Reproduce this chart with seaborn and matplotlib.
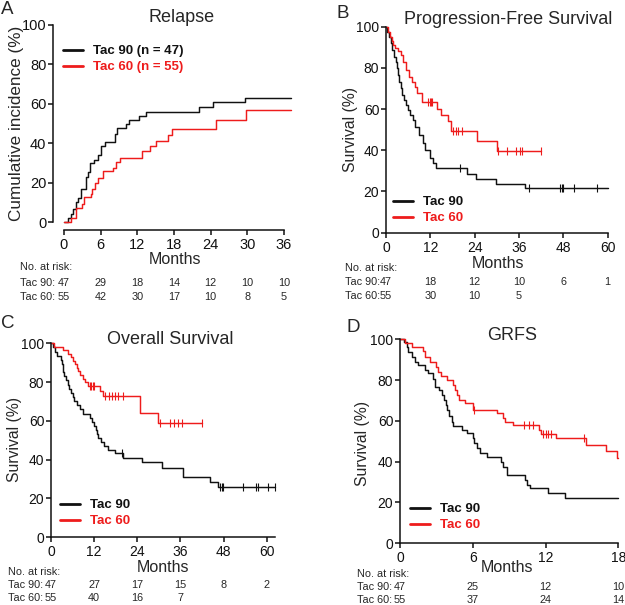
import numpy as np
import matplotlib
matplotlib.use("Agg")
import matplotlib.pyplot as plt
import matplotlib.transforms as mtrans
import seaborn as sns

sns.set_theme(style="ticks")
plt.rcParams['font.family'] = ['Liberation Sans', 'DejaVu Sans']

BLACK = "#111111"
RED = "#EE1C1C"

# ---------------- Panel A: Relapse (cumulative incidence) ----------------
a_t90 = [0, 0.7, 1.1, 1.5, 1.9, 2.3, 2.8, 3.6, 3.9, 4.2, 4.95, 5.5, 6.0, 6.7, 8.3, 8.6,
         10.2, 10.6, 12.2, 13.5, 22.1, 24.4, 29.7, 37.2]
a_v90 = [0, 2.2, 4.3, 6.8, 10.2, 12.4, 17.0, 22.9, 25.4, 29.7, 31.7, 33.9, 38.5, 40.7, 44.9, 47.5,
         49.5, 51.7, 53.9, 55.9, 58.5, 60.7, 63.0, 63.0]
a_t60 = [0, 1.1, 1.9, 2.9, 3.3, 4.4, 4.6, 5.0, 5.5, 6.4, 8.1, 8.5, 9.1, 12.8, 14.0, 15.1,
         17.0, 17.7, 24.9, 29.8, 37.2]
a_v60 = [0, 2.0, 7.1, 9.3, 12.7, 14.4, 17.0, 20.0, 22.4, 25.8, 27.6, 30.5, 32.7, 35.9, 38.5, 41.2,
         44.1, 47.0, 51.7, 56.8, 56.8]
a_risk_t = [0, 6, 12, 18, 24, 30, 36]
a_risk90 = [47, 29, 18, 14, 12, 10, 10]
a_risk60 = [55, 42, 30, 17, 10, 8, 5]

# ---------------- Panel B: Progression-Free Survival ----------------
b_t90 = [0, 0.36, 0.81, 1.26, 1.71, 2.17, 2.62, 2.89, 3.34, 3.61, 3.97, 4.42, 4.87, 5.41, 6.05,
         6.5, 7.22, 7.85, 9.02, 9.92, 10.55, 11.9, 12.8, 13.5, 22.0, 24.4, 29.8, 37.6, 60.2]
b_v90 = [100, 97.6, 95.1, 91.9, 88.7, 85.4, 83.0, 79.8, 76.5, 73.3, 70.1, 66.8, 64.4, 62.0, 59.6,
         57.1, 54.7, 51.5, 47.4, 43.4, 40.1, 36.1, 33.7, 31.2, 28.3, 26.1, 23.6, 21.5, 21.5]
b_c90 = [20.0, 38.7, 47.1, 47.5, 48.0, 50.9, 57.0]
b_t60 = [0, 0.54, 1.08, 1.6, 1.9, 2.4, 3.3, 3.97, 4.7, 5.4, 6.3, 6.95, 7.85, 8.5, 9.65, 13.7,
         14.8, 16.9, 17.6, 24.7, 29.95, 42.0]
b_v60 = [100, 97.6, 95.1, 93.2, 91.1, 89.8, 88.2, 86.3, 83.0, 79.0, 75.8, 73.3, 70.9, 67.6, 63.6, 59.9,
         57.1, 54.2, 49.4, 44.7, 39.7, 39.7]
b_c60 = [11.5, 11.8, 12.1, 12.4, 18.2, 18.9, 19.6, 20.5, 30.4, 32.7, 35.2, 36.3, 36.7, 42.0]
b_risk_t = [0, 12, 24, 36, 48, 60]
b_risk90 = [47, 18, 12, 10, 6, 1]
b_risk60 = [55, 30, 10, 5]

# ---------------- Panel C: Overall Survival ----------------
c_t90 = [0, 0.5, 1.1, 1.8, 2.8, 3.0, 3.2, 3.4, 3.6, 4.1, 4.6, 5.1, 5.6, 6.0, 6.4, 7.3, 8.1, 9.0,
         10.9, 11.5, 12.0, 12.4, 12.8, 13.2, 13.8, 14.8, 15.9, 17.8, 20.1, 25.2, 30.8, 36.8,
         44.2, 46.6, 62.3]
c_v90 = [100, 97.9, 95.7, 93.6, 91.5, 89.4, 87.2, 85.1, 83.0, 80.9, 78.7, 76.6, 74.5, 72.3, 70.2,
         68.1, 66.0, 63.8, 61.7, 59.6, 57.4, 55.3, 53.2, 51.1, 48.9, 47.0, 45.0, 43.3, 41.1, 38.6,
         35.9, 31.3, 28.7, 26.1, 26.1]
c_c90 = [19.8, 47.0, 47.5, 47.9, 53.5, 57.0, 57.7, 60.3, 62.2]
c_t60 = [0, 0.7, 3.4, 4.6, 5.5, 6.1, 6.6, 7.1, 7.6, 8.2, 8.8, 9.5, 10.4, 13.6, 14.4, 24.8, 29.8, 41.9]
c_v60 = [100, 98.2, 96.4, 94.5, 92.7, 90.9, 89.1, 87.3, 85.5, 83.6, 81.8, 80.0, 78.2, 75.6, 73.0,
         63.9, 59.1, 59.1]
c_c60 = [10.8, 11.2, 11.6, 12.0, 15.0, 16.0, 16.9, 17.8, 18.7, 20.1, 30.3, 33.1, 34.2, 35.2,
         36.4, 41.9]
c_risk_t = [0, 12, 24, 36, 48, 60]
c_risk90 = [47, 27, 17, 15, 8, 2]
c_risk60 = [55, 40, 16, 7]

# ---------------- Panel D: GRFS ----------------
d_t90 = [0, 0.36, 0.55, 0.69, 0.96, 1.24, 1.51, 2.06, 2.34, 2.69, 2.88, 3.24, 3.43, 3.63, 3.79,
         3.9, 4.07, 4.26, 4.4, 5.08, 5.55, 5.99, 6.1, 6.32, 6.59, 7.14, 8.3, 8.46, 8.79, 10.3,
         10.5, 10.7, 12.2, 13.6, 18.0]
d_v90 = [100, 98.9, 96.4, 94.0, 91.5, 89.0, 87.4, 85.0, 83.3, 80.4, 76.8, 75.2, 72.7, 70.3, 67.8,
         65.4, 62.4, 59.6, 57.5, 55.6, 53.9, 51.5, 49.0, 46.6, 44.4, 42.5, 40.0, 37.3, 33.5, 31.0,
         28.6, 27.0, 24.5, 22.0, 22.0]
d_c90 = []
d_t60 = [0, 0.4, 0.96, 1.87, 2.06, 2.47, 2.97, 3.16, 3.4, 3.9, 4.4, 4.55, 4.7, 4.89, 5.36, 6.04,
         7.97, 8.5, 8.66, 9.35, 11.5, 11.6, 12.9, 15.3, 16.96, 17.9, 18.0]
d_v60 = [100, 98.2, 96.4, 94.5, 91.5, 89.0, 86.6, 84.2, 82.0, 80.0, 77.6, 75.2, 72.7, 70.3, 68.6,
         65.4, 63.7, 61.3, 59.7, 58.0, 55.6, 53.6, 51.5, 48.2, 45.4, 42.0, 42.0]
d_c60 = [6.1, 10.2, 10.6, 11.0, 11.75, 12.0, 12.2, 12.45, 15.2]
d_risk_t = [0, 6, 12, 18]
d_risk90 = [47, 25, 12, 10]
d_risk60 = [55, 37, 24, 14]

W, H = 625, 605
fig = plt.figure(figsize=(W / 100, H / 100), dpi=100)


def px_axes(x0, y0, x1, y1):
    return fig.add_axes([x0 / W, 1 - y1 / H, (x1 - x0) / W, (y1 - y0) / H])


def step_at(t, v, tc):
    t = np.asarray(t)
    v = np.asarray(v)
    idx = np.searchsorted(t, tc, side="right") - 1
    return v[np.clip(idx, 0, len(v) - 1)]


def panel(box, xlim, xticks, curves, letter, letter_xy, title, title_xy, ylabel, ylab_xy,
          months_xy, leg_xy, labels, risk, risk_rows, risk_x, offsets=(0, 0), tick_fs=10,
          ylab_fs=11.5, leg_fs=9.5, xbound=None):
    ax = px_axes(*box)
    for (t, v, cens, col), lab in zip(curves, labels):
        sns.lineplot(x=t, y=v, ax=ax, color=col, linewidth=1.05, drawstyle="steps-post",
                     estimator=None, sort=False, label=lab, clip_on=False)
        if cens:
            cy = step_at(t, v, cens)
            sns.scatterplot(x=cens, y=cy, ax=ax, color=col, marker="|", s=26,
                            linewidth=0.8, clip_on=False, legend=False)
    ax.set_xlim(*xlim)
    ax.set_ylim(0, 100)
    ax.set_xticks(xticks)
    ax.set_yticks([0, 20, 40, 60, 80, 100])
    ax.set_xlabel("")
    ax.set_ylabel("")
    for s in ["top", "right"]:
        ax.spines[s].set_visible(False)
    for s in ["left", "bottom"]:
        ax.spines[s].set_linewidth(1.1)
        ax.spines[s].set_color("#111111")
    ax.spines["left"].set_position(("outward", offsets[0] * 0.72))
    ax.spines["bottom"].set_position(("outward", offsets[1] * 0.72))
    ax.spines["bottom"].set_bounds(*(xbound if xbound else xlim))
    ax.spines["left"].set_bounds(0, 100)
    ax.tick_params(axis="both", direction="out", length=3.3, width=1.1, color="#111111",
                   labelsize=tick_fs, labelcolor="#111111")
    ax.tick_params(axis="x", pad=2.5)
    ax.tick_params(axis="y", pad=1.5)
    ax.grid(False)
    ax.patch.set_alpha(0)

    fig.text(letter_xy[0] / W, 1 - letter_xy[1] / H, letter, fontsize=13.5, ha="left", va="center")
    fig.text(title_xy[0] / W, 1 - title_xy[1] / H, title, fontsize=13, ha="center", va="center")
    fig.text(ylab_xy[0] / W, 1 - ylab_xy[1] / H, ylabel, fontsize=ylab_fs, ha="center",
             va="center", rotation=90)
    fig.text(months_xy[0] / W, 1 - months_xy[1] / H, "Months", fontsize=11.5, ha="center",
             va="center")

    leg = ax.legend(loc="upper left", bbox_to_anchor=(leg_xy[0] / W, 1 - leg_xy[1] / H),
                    bbox_transform=fig.transFigure, frameon=False,
                    prop={"weight": "bold", "size": leg_fs}, labelcolor="linecolor",
                    handlelength=1.55, handletextpad=0.75, borderpad=0, borderaxespad=0,
                    labelspacing=0.3)
    for h in leg.get_lines():
        h.set_linewidth(2.0)

    tr = mtrans.blended_transform_factory(ax.transData, fig.transFigure)
    ys = risk_rows
    fig.text(risk_x / W, 1 - ys[0] / H, "No. at risk:", fontsize=7.8, ha="left", va="center")
    for (name, counts), yy in zip(risk[1], ys[1:]):
        fig.text(risk_x / W, 1 - yy / H, name, fontsize=7.8, ha="left", va="center")
        for tt, cc in zip(risk[0], counts):
            ax.text(tt, 1 - yy / H, str(cc), transform=tr, fontsize=7.8, ha="center",
                    va="center", clip_on=False)
    return ax


# Panel A
panel(box=(64, 25, 64 + 37.5 * 6.11, 222), xlim=(0, 37.5), xticks=a_risk_t,
      curves=[(a_t90, a_v90, [], BLACK), (a_t60, a_v60, [], RED)],
      letter="A", letter_xy=(1, 10), title="Relapse", title_xy=(182, 18),
      ylabel="Cumulative incidence (%)", ylab_xy=(17, 123), months_xy=(175, 260),
      leg_xy=(63, 45), labels=["Tac 90 (n = 47)", "Tac 60 (n = 55)"],
      risk=(a_risk_t, [("Tac 90:", a_risk90), ("Tac 60:", a_risk60)]),
      risk_rows=(267, 283, 297), risk_x=20, offsets=(11, 8), tick_fs=10.5, ylab_fs=12.3,
      xbound=(0, 36))

# Panel B
panel(box=(386, 26.7, 607.7, 232.7), xlim=(0, 60), xticks=b_risk_t,
      curves=[(b_t90, b_v90, b_c90, BLACK), (b_t60, b_v60, b_c60, RED)],
      letter="B", letter_xy=(336, 13), title="Progression-Free Survival", title_xy=(508, 19),
      ylabel="Survival (%)", ylab_xy=(351, 130), months_xy=(498, 263),
      leg_xy=(393, 196), labels=["Tac 90", "Tac 60"],
      risk=(b_risk_t, [("Tac 90:", b_risk90), ("Tac 60:", b_risk60)]),
      risk_rows=(268, 282, 296), risk_x=345, tick_fs=10, ylab_fs=11.3)

# Panel C
panel(box=(51, 343.3, 51 + 62.3 * 3.594, 537.3), xlim=(0, 62.3), xticks=c_risk_t,
      curves=[(c_t90, c_v90, c_c90, BLACK), (c_t60, c_v60, c_c60, RED)],
      letter="C", letter_xy=(1, 323), title="Overall Survival", title_xy=(170, 339),
      ylabel="Survival (%)", ylab_xy=(15, 440), months_xy=(163, 567),
      leg_xy=(60, 499), labels=["Tac 90", "Tac 60"],
      risk=(c_risk_t, [("Tac 90:", c_risk90), ("Tac 60:", c_risk60)]),
      risk_rows=(572, 585, 598), risk_x=8, tick_fs=10, ylab_fs=11.3)

# Panel D
panel(box=(400, 339.3, 618.3, 543.3), xlim=(0, 18), xticks=d_risk_t,
      curves=[(d_t90, d_v90, d_c90, BLACK), (d_t60, d_v60, d_c60, RED)],
      letter="D", letter_xy=(347, 327), title="GRFS", title_xy=(512, 335),
      ylabel="Survival (%)", ylab_xy=(363, 443), months_xy=(507, 568),
      leg_xy=(410, 503), labels=["Tac 90", "Tac 60"],
      risk=(d_risk_t, [("Tac 90:", d_risk90), ("Tac 60:", d_risk60)]),
      risk_rows=(574, 587, 600), risk_x=357, tick_fs=10, ylab_fs=11.3)

fig.savefig("out.png", dpi=100)
